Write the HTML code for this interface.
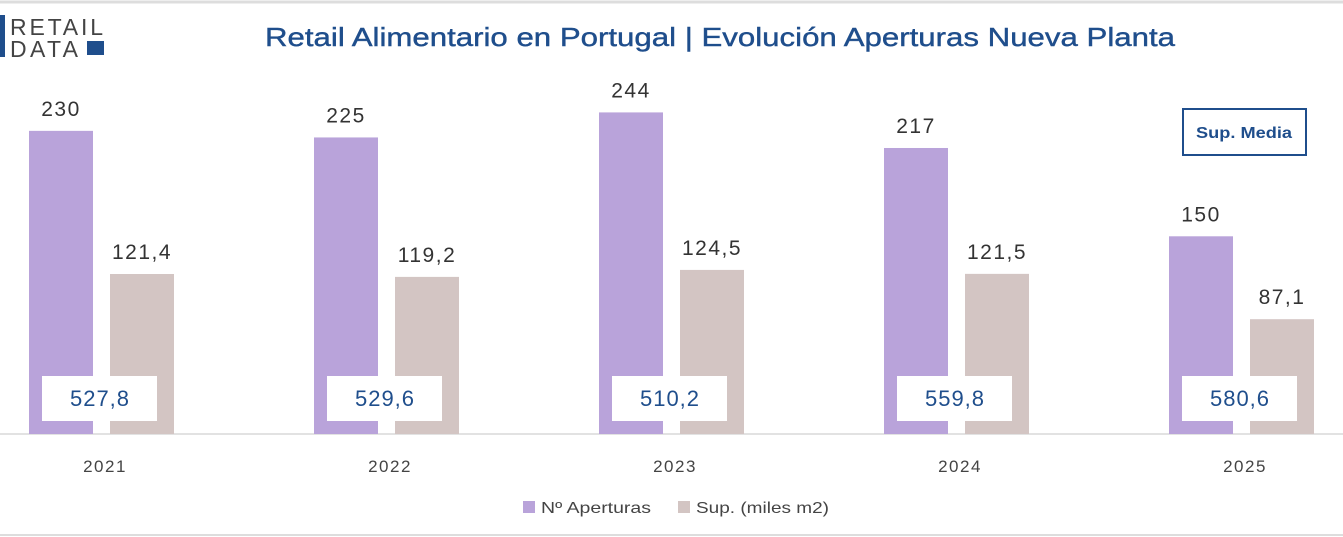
<!DOCTYPE html>
<html><head><meta charset="utf-8"><style>
body{margin:0;width:1343px;height:537px;background:#fff;overflow:hidden;font-family:"Liberation Sans",sans-serif}
svg{display:block}
</style></head><body>
<svg id="c" width="1343" height="537">
<line x1="0" y1="2" x2="1343" y2="2" stroke="#ddd" stroke-width="3"/>
<line x1="0" y1="535" x2="1343" y2="535" stroke="#ddd" stroke-width="2"/>
<g>
<rect x="0" y="15" width="5" height="42" fill="#1f4e8c"/>
<text x="10" y="35" font-size="23" fill="#444" textLength="93" lengthAdjust="spacing">RETAIL</text>
<text x="10" y="57" font-size="23" fill="#444" textLength="68" lengthAdjust="spacing">DATA</text>
<rect x="87" y="41" width="17" height="14" fill="#1f4e8c"/>
</g>
<text x="720" y="46" text-anchor="middle" font-size="26" fill="#1f4e8c" stroke="#1f4e8c" stroke-width="0.4" textLength="910" lengthAdjust="spacingAndGlyphs">Retail Alimentario en Portugal | Evolución Aperturas Nueva Planta</text>
<rect x="1183" y="109" width="123" height="46" fill="#fff" stroke="#1f4e8c" stroke-width="2"/>
<text x="1244" y="138" text-anchor="middle" font-size="16" font-weight="bold" fill="#1f4e8c" textLength="96" lengthAdjust="spacingAndGlyphs">Sup. Media</text>
<line x1="0" y1="434" x2="1343" y2="434" stroke="#d9d9d9" stroke-width="1.5"/>
<g id="bars"></g>
<g>
<rect x="523" y="501" width="12" height="12" fill="#b9a3da"/>
<text x="541" y="513" font-size="16" fill="#444" textLength="110" lengthAdjust="spacingAndGlyphs">Nº Aperturas</text>
<rect x="678" y="501" width="12" height="12" fill="#d3c5c3"/>
<text x="696" y="513" font-size="16" fill="#444" textLength="133" lengthAdjust="spacingAndGlyphs">Sup. (miles m2)</text>
</g>
</svg>
<script>
const categories=["2021","2022","2023","2024","2025"];
const aperturas=[230,225,244,217,150];
const superficie=[121.4,119.2,124.5,121.5,87.1];
const supMedia=[527.8,529.6,510.2,559.8,580.6];
const NS="http://www.w3.org/2000/svg";
const g=document.getElementById('bars');
const base=434,k=1.318;
const y=v=>base-v*k;
const xg=i=>29+i*285;
const fmt=v=>v.toFixed(1).replace('.',',');
function el(t,a,txt){const e=document.createElementNS(NS,t);for(const n in a)e.setAttribute(n,a[n]);if(txt!==undefined)e.textContent=txt;g.appendChild(e);return e;}
categories.forEach((c,i)=>{
 const x=xg(i);
 const b1=el('rect',{x:x,y:y(aperturas[i]),width:64,height:aperturas[i]*k,fill:'#b9a3da'});
 
 
 const t1=el('text',{x:x+32,y:y(aperturas[i])-15,'text-anchor':'middle','font-size':21,fill:'#333','letter-spacing':1.5},String(aperturas[i]));
 
 
 const b2=el('rect',{x:x+81,y:y(superficie[i]),width:64,height:superficie[i]*k,fill:'#d3c5c3'});
 
 
 const t2=el('text',{x:x+113,y:y(superficie[i])-15,'text-anchor':'middle','font-size':21,fill:'#333','letter-spacing':1.5},fmt(superficie[i]));
 
 
 const bx=el('rect',{x:x+13,y:376,width:115,height:45,fill:'#fff'});
 
 
 const t3=el('text',{x:x+71,y:406,'text-anchor':'middle','font-size':22,fill:'#1f4e8c','letter-spacing':1},fmt(supMedia[i]));
 
 
 const t4=el('text',{x:x+76,y:472,'text-anchor':'middle','font-size':17,fill:'#444','letter-spacing':1.5},c);
 
 
});
</script>
</body></html>
